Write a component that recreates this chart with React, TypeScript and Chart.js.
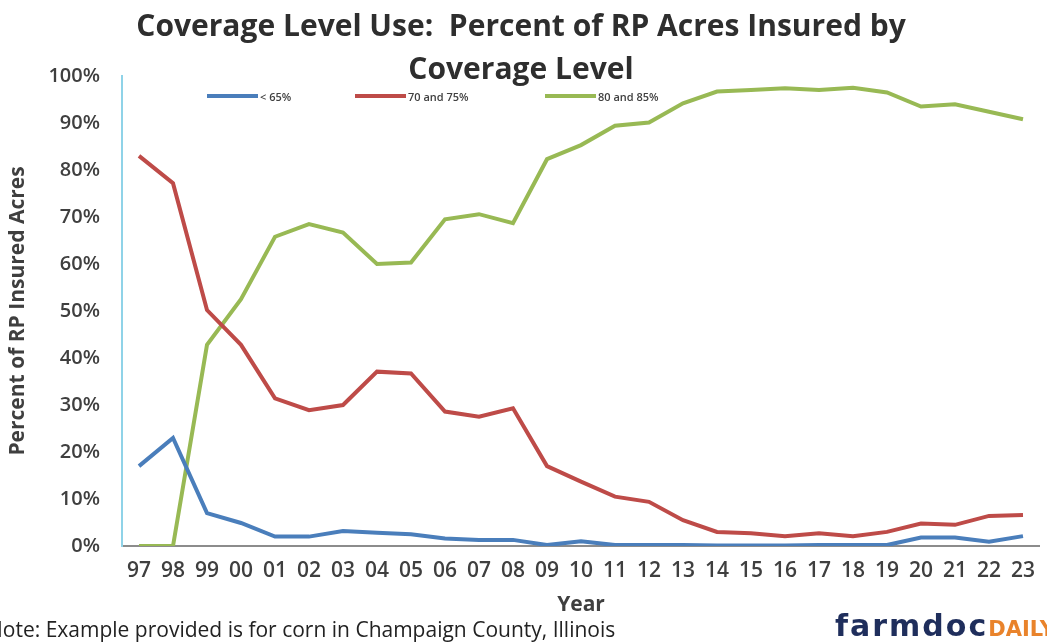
import React, { useEffect, useRef } from "react";
import { Chart, registerables } from "chart.js";

Chart.register(...registerables);

const years = ["97","98","99","00","01","02","03","04","05","06","07","08","09","10","11","12","13","14","15","16","17","18","19","20","21","22","23"];
const below65 = [17, 23, 7, 4.9, 2, 2, 3.2, 2.8, 2.5, 1.6, 1.3, 1.3, 0.2, 1.0, 0.2, 0.2, 0.2, 0.1, 0.1, 0.1, 0.2, 0.2, 0.2, 1.8, 1.8, 0.9, 2.1];
const cov70and75 = [83, 77.2, 50.2, 42.8, 31.4, 28.9, 30, 37.1, 36.7, 28.6, 27.5, 29.3, 17, 13.7, 10.5, 9.4, 5.5, 3.0, 2.7, 2.1, 2.7, 2.1, 3.0, 4.8, 4.5, 6.4, 6.6];
const cov80and85 = [0, 0, 42.8, 52.5, 65.8, 68.5, 66.7, 60, 60.3, 69.5, 70.6, 68.7, 82.3, 85.3, 89.4, 90.1, 94.2, 96.7, 97, 97.4, 97, 97.5, 96.5, 93.5, 94, 92.4, 90.8];
const seriesLabels = ["< 65%", "70 and 75%", "80 and 85%"];
const seriesColors = ["#4A7EBB", "#BE4B48", "#98B954"];
const yTicks = [0, 10, 20, 30, 40, 50, 60, 70, 80, 90, 100];

const titleLines = ["Coverage Level Use:  Percent of RP Acres Insured by", "Coverage Level"];
const noteText = "Note: Example provided is for corn in Champaign County, Illinois";

export default function App() {
  const canvasRef = useRef<HTMLCanvasElement | null>(null);

  useEffect(() => {
    document.body.style.margin = "0";
    const ctx = canvasRef.current!;
    const seriesData = [below65, cov70and75, cov80and85];
    const chart = new Chart(ctx, {
      type: "line",
      data: {
        labels: years,
        datasets: seriesData.map((d, i) => ({
          label: seriesLabels[i],
          data: d,
          borderColor: seriesColors[i],
          backgroundColor: seriesColors[i],
          borderWidth: 4,
          pointRadius: 0,
          tension: 0,
          fill: false,
        })),
      },
      options: {
        responsive: false,
        animation: false,
        layout: { padding: { top: 76, left: 0, right: 0, bottom: 0 } },
        plugins: {
          legend: { display: false },
          title: { display: false },
          tooltip: { enabled: false },
        },
        scales: {
          x: {
            type: "category",
            offset: true,
            grid: { display: false, drawTicks: false },
            border: { display: true, color: "#8C8C8C", width: 2 },
            ticks: {
              color: "#3F3F3F",
              font: { family: "'Open Sans'", size: 21, weight: "600" },
              padding: 12,
              maxRotation: 0,
              autoSkip: false,
            },
            title: {
              display: true,
              text: "Year",
              color: "#3F3F3F",
              font: { family: "'Open Sans'", size: 21, weight: "bold" },
              padding: { top: 0, bottom: 26 },
            },
            afterFit: (scale: any) => {
              scale.height = 98;
            },
          },
          y: {
            min: 0,
            max: 100,
            afterBuildTicks: (scale: any) => {
              scale.ticks = yTicks.map((v) => ({ value: v }));
            },
            grid: { display: false, drawTicks: false },
            border: { display: true, color: "#8FD3E8", width: 2 },
            ticks: {
              color: "#3F3F3F",
              font: { family: "'Open Sans'", size: 20, weight: "600" },
              padding: 22,
              callback: (v: any) => v + "%",
            },
            title: {
              display: true,
              text: "Percent of RP Insured Acres",
              color: "#3F3F3F",
              font: { family: "'Open Sans'", size: 21, weight: "bold" },
              padding: { top: 5, bottom: 0 },
            },
            afterFit: (scale: any) => {
              scale.width = 122;
            },
          },
        },
      },
    });
    return () => chart.destroy();
  }, []);

  const legendX = [207, 355, 545];

  return (
    <div style={{ position: "relative", width: 1047, height: 644, overflow: "hidden", background: "#fff" }}>
      <canvas ref={canvasRef} width={1047} height={644} style={{ position: "absolute", left: 0, top: 0 }} />
      {titleLines.map((t, i) => (
        <div
          key={i}
          style={{
            position: "absolute",
            left: 21,
            width: 1000,
            top: i === 0 ? 5 : 48,
            textAlign: "center",
            fontFamily: "'Open Sans'",
            fontWeight: 700,
            fontSize: 30,
            color: "#2E2E2E",
            whiteSpace: "pre",
            lineHeight: "40px",
          }}
        >
          {t}
        </div>
      ))}
      {seriesLabels.map((l, i) => (
        <div
          key={l}
          style={{ position: "absolute", left: legendX[i], top: 88, height: 16, display: "flex", alignItems: "center" }}
        >
          <div style={{ width: 51, height: 4, background: seriesColors[i], marginRight: 2 }} />
          <span style={{ fontFamily: "'Open Sans'", fontWeight: 600, fontSize: 11, color: "#404040", whiteSpace: "pre" }}>{l}</span>
        </div>
      ))}
      <div
        style={{
          position: "absolute",
          left: -13,
          top: 616,
          fontFamily: "'Open Sans'",
          fontSize: 21,
          color: "#222",
          whiteSpace: "pre",
          lineHeight: "26px",
        }}
      >
        {noteText}
      </div>
      <div
        style={{
          position: "absolute",
          left: 835,
          top: 608,
          whiteSpace: "pre",
          lineHeight: "36px",
        }}
      >
        <span style={{ fontFamily: "'DejaVu Sans'", fontWeight: 700, fontSize: 30, color: "#1F2E5C", letterSpacing: 2 }}>farmdoc</span>
        <span style={{ fontFamily: "'DejaVu Sans'", fontWeight: 700, fontSize: 21, color: "#E9832B", letterSpacing: 0 }}>DAILY</span>
      </div>
    </div>
  );
}
